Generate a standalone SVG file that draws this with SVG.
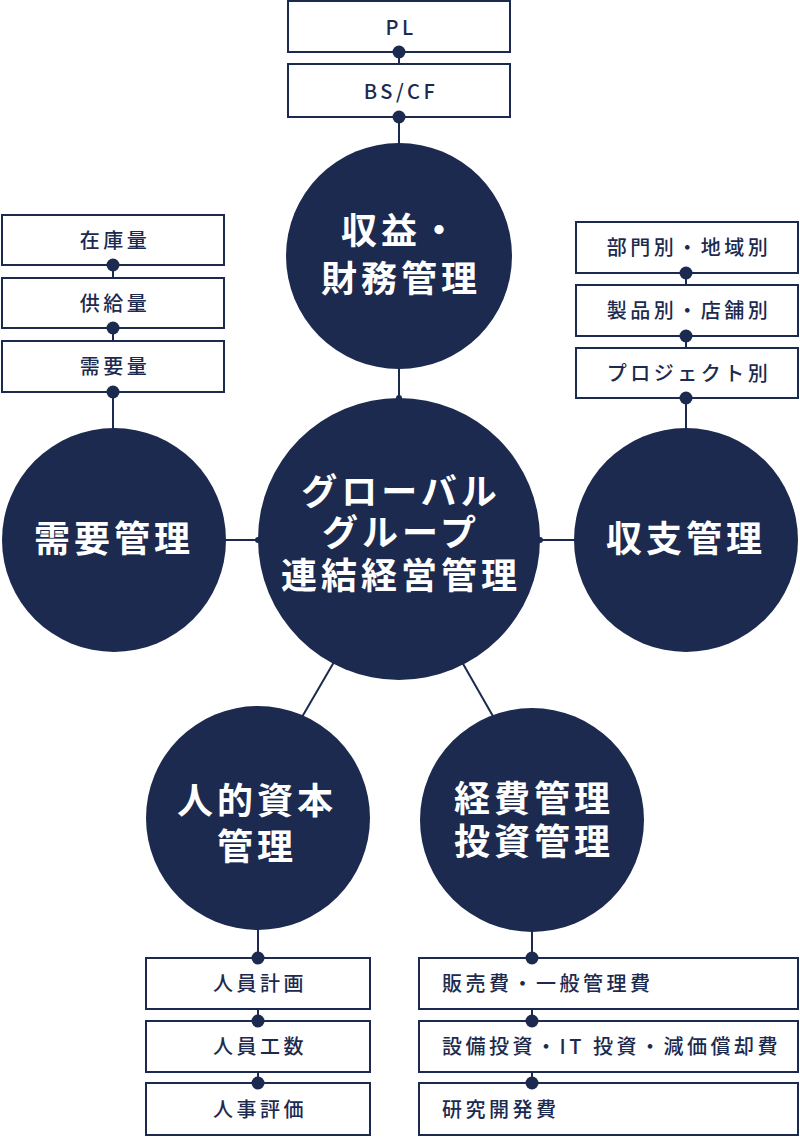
<svg xmlns="http://www.w3.org/2000/svg" width="800" height="1144" viewBox="0 0 800 1144">
<style>
.circle{fill:#1c2a4f}
.ct{fill:#fff;font-family:"Noto Sans CJK JP","Noto Sans",sans-serif;font-weight:700;font-size:36px;letter-spacing:4px;text-anchor:middle}
.box{fill:#fff;stroke:#1c2a4f;stroke-width:2}
.bt{fill:#1c2a4f;font-family:"Noto Sans CJK JP","Noto Sans",sans-serif;font-weight:500;font-size:20px;letter-spacing:3.5px;text-anchor:middle}
.bl{text-anchor:start}
.ln{stroke:#1c2a4f;stroke-width:2;fill:none}
.dot{fill:#1c2a4f}
</style>
<g id="connectors">
<line class="ln" x1="399" y1="52" x2="399" y2="64"/>
<line class="ln" x1="399" y1="117" x2="399" y2="145"/>
<line class="ln" x1="399" y1="367" x2="399" y2="400"/>
<line class="ln" x1="113" y1="265" x2="113" y2="278"/>
<line class="ln" x1="113" y1="328" x2="113" y2="341"/>
<line class="ln" x1="113" y1="392" x2="113" y2="430"/>
<line class="ln" x1="686" y1="273" x2="686" y2="285"/>
<line class="ln" x1="686" y1="336" x2="686" y2="348"/>
<line class="ln" x1="686" y1="398" x2="686" y2="430"/>
<line class="ln" x1="224" y1="540" x2="260" y2="540"/>
<line class="ln" x1="538" y1="540" x2="576" y2="540"/>
<line class="ln" x1="334" y1="662" x2="302" y2="717"/>
<line class="ln" x1="462" y1="662" x2="494" y2="718"/>
<line class="ln" x1="258" y1="928" x2="258" y2="958"/>
<line class="ln" x1="258" y1="1009" x2="258" y2="1021"/>
<line class="ln" x1="258" y1="1072" x2="258" y2="1083"/>
<line class="ln" x1="532" y1="930" x2="532" y2="958"/>
<line class="ln" x1="532" y1="1009" x2="532" y2="1021"/>
<line class="ln" x1="532" y1="1072" x2="532" y2="1083"/>
</g>
<g id="n-top-circle"><circle class="circle" cx="399" cy="256" r="113"/><text class="ct" x="401" y="244">収益・</text><text class="ct" x="401" y="292">財務管理</text></g>
<g id="n-center"><circle class="circle" cx="399" cy="539" r="141"/><text class="ct" x="401" y="505">グローバル</text><text class="ct" x="401" y="546">グループ</text><text class="ct" x="401" y="589">連結経営管理</text></g>
<g id="n-left-circle"><circle class="circle" cx="114" cy="540" r="112"/><text class="ct" x="114" y="552">需要管理</text></g>
<g id="n-right-circle"><circle class="circle" cx="686" cy="540" r="112"/><text class="ct" x="686" y="552">収支管理</text></g>
<g id="n-bl-circle"><circle class="circle" cx="258" cy="818" r="112"/><text class="ct" x="257" y="814">人的資本</text><text class="ct" x="257" y="860">管理</text></g>
<g id="n-br-circle"><circle class="circle" cx="532" cy="820" r="112"/><text class="ct" x="534" y="812">経費管理</text><text class="ct" x="534" y="855">投資管理</text></g>
<g id="n-pl"><rect class="box" x="288" y="1" width="222" height="51"/><text class="bt" x="401" y="35">PL</text></g>
<g id="n-bscf"><rect class="box" x="288" y="64" width="222" height="53"/><text class="bt" x="401" y="99">BS/CF</text></g>
<g id="n-zaiko"><rect class="box" x="2" y="215" width="222" height="50"/><text class="bt" x="115" y="248">在庫量</text></g>
<g id="n-kyokyu"><rect class="box" x="2" y="278" width="222" height="50"/><text class="bt" x="115" y="311">供給量</text></g>
<g id="n-juyo"><rect class="box" x="2" y="341" width="222" height="51"/><text class="bt" x="115" y="374">需要量</text></g>
<g id="n-bumon"><rect class="box" x="576" y="222" width="222" height="51"/><text class="bt" x="689" y="255">部門別・地域別</text></g>
<g id="n-seihin"><rect class="box" x="576" y="285" width="222" height="51"/><text class="bt" x="689" y="318">製品別・店舗別</text></g>
<g id="n-project"><rect class="box" x="576" y="348" width="222" height="50"/><text class="bt" x="689" y="381">プロジェクト別</text></g>
<g id="n-jinin"><rect class="box" x="146" y="958" width="224" height="51"/><text class="bt" x="260" y="991">人員計画</text></g>
<g id="n-kosu"><rect class="box" x="146" y="1021" width="224" height="51"/><text class="bt" x="260" y="1054">人員工数</text></g>
<g id="n-jinji"><rect class="box" x="146" y="1083" width="224" height="52"/><text class="bt" x="260" y="1117">人事評価</text></g>
<g id="n-hanbai"><rect class="box" x="419" y="958" width="379" height="51"/><text class="bt bl" x="442" y="991">販売費・一般管理費</text></g>
<g id="n-setsubi"><rect class="box" x="419" y="1021" width="379" height="51"/><text class="bt bl" x="442" y="1054">設備投資・IT 投資・減価償却費</text></g>
<g id="n-kenkyu"><rect class="box" x="419" y="1083" width="379" height="52"/><text class="bt bl" x="442" y="1117">研究開発費</text></g>
<g id="dots">
<circle class="dot" cx="399" cy="52" r="6.5"/>
<circle class="dot" cx="399" cy="117" r="6.5"/>
<circle class="dot" cx="399" cy="398" r="3"/>
<circle class="dot" cx="113" cy="265" r="6.5"/>
<circle class="dot" cx="113" cy="328" r="6.5"/>
<circle class="dot" cx="113" cy="392" r="6.5"/>
<circle class="dot" cx="686" cy="273" r="6.5"/>
<circle class="dot" cx="686" cy="336" r="6.5"/>
<circle class="dot" cx="686" cy="398" r="6.5"/>
<circle class="dot" cx="258" cy="540" r="3"/>
<circle class="dot" cx="540" cy="540" r="3"/>
<circle class="dot" cx="258" cy="958" r="6.5"/>
<circle class="dot" cx="258" cy="1021" r="6.5"/>
<circle class="dot" cx="258" cy="1083" r="6.5"/>
<circle class="dot" cx="532" cy="958" r="6.5"/>
<circle class="dot" cx="532" cy="1021" r="6.5"/>
<circle class="dot" cx="532" cy="1083" r="6.5"/>
</g>
</svg>
